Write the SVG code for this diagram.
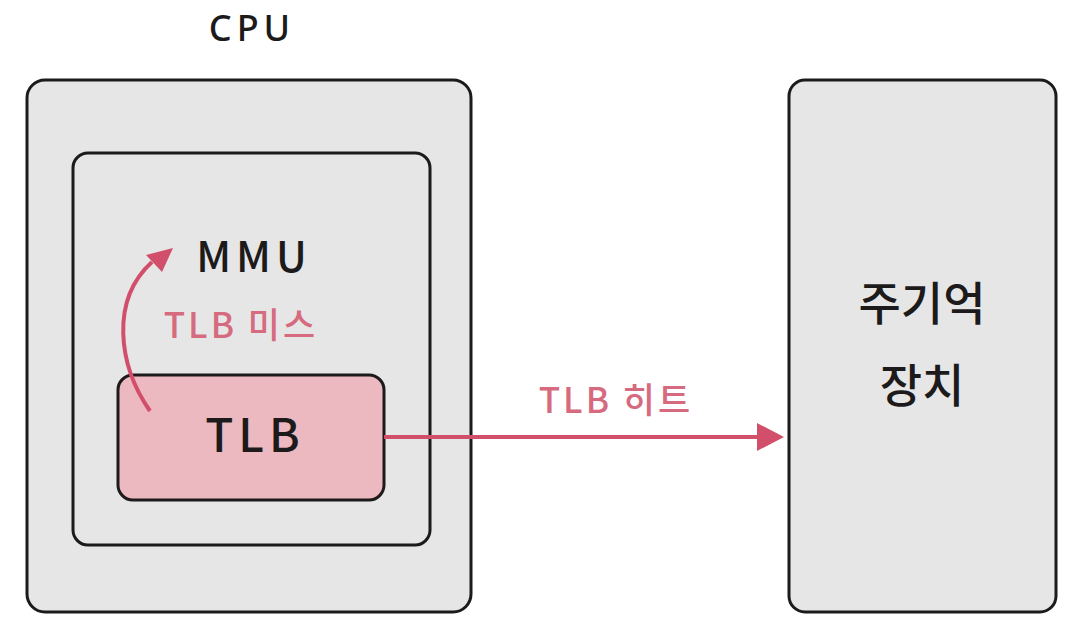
<svg xmlns="http://www.w3.org/2000/svg" width="1088" height="628" viewBox="0 0 1088 628">
<defs>
<style>
.box{fill:#e6e6e6;stroke:#1c1a1a;stroke-width:3}
.tlb{fill:#ecb9c0;stroke:#1c1a1a;stroke-width:3}
.t{font-family:"Noto Sans CJK KR","Noto Sans",sans-serif;fill:#1c1a1a;text-anchor:middle;font-weight:500}
.p{font-family:"Noto Sans CJK KR","Noto Sans",sans-serif;fill:#d66a7e;text-anchor:middle;font-weight:500}
.ln{fill:none;stroke:#d24f6b;stroke-width:4}
</style>
</defs>
<rect width="1088" height="628" fill="#ffffff"/>
<g id="cpu">
<rect class="box" x="27" y="80" width="444" height="532" rx="18"/>
<text class="t" x="252" y="41" font-size="36" letter-spacing="5" style="font-family:'Noto Sans',sans-serif">CPU</text>
</g>
<g id="mmu">
<rect class="box" x="73" y="153" width="357" height="392" rx="15"/>
<text class="t" x="254" y="272" font-size="42" letter-spacing="5">MMU</text>
</g>
<g id="tlb">
<rect class="tlb" x="118" y="375" width="266" height="125" rx="15"/>
<text class="t" x="255" y="452" font-size="46" letter-spacing="5">TLB</text>
</g>
<g id="memory">
<rect class="box" x="789" y="80" width="267" height="532" rx="16"/>
<text class="t" x="922" y="320" font-size="46">주기억</text>
<text class="t" x="922" y="402" font-size="46">장치</text>
</g>
<g id="connectors">
<path class="ln" d="M150,411 C118,365 110,300 152,262"/>
<path d="M173,248 L146,255 L162,272 Z" fill="#d24f6b"/>
<line class="ln" x1="384" y1="437" x2="760" y2="437"/>
<path d="M784,437 L757,423 L757,451 Z" fill="#d24f6b"/>
<text class="p" x="241" y="338" font-size="35" letter-spacing="3">TLB 미스</text>
<text class="p" x="616" y="413" font-size="35" letter-spacing="3">TLB 히트</text>
</g>
</svg>
